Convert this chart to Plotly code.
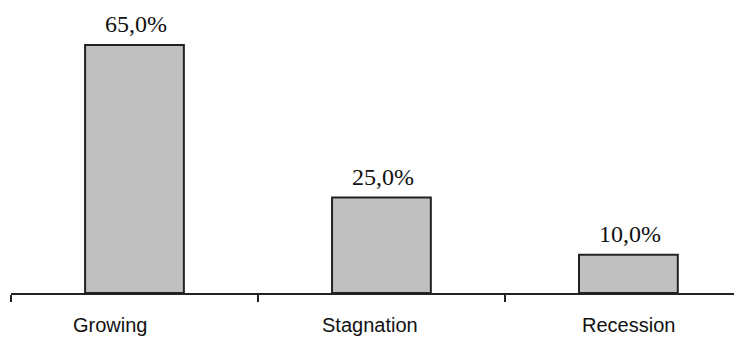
import plotly.graph_objects as go

categories = ["Growing", "Stagnation", "Recession"]
values = [65.0, 25.0, 10.0]
value_labels = ["65,0%", "25,0%", "10,0%"]
label_shifts = [-24, -11, 0]

fig = go.Figure()
fig.add_trace(go.Bar(
    x=categories, y=values, width=0.4,
    marker=dict(color="#C0C0C0", line=dict(color="#222222", width=2)),
    cliponaxis=False, hoverinfo="skip",
))
for c, v, t in zip(categories, values, value_labels):
    fig.add_annotation(x=c, y=v, xref="x", yref="y", text=t, showarrow=False,
                       yanchor="bottom", yshift=6, xshift=2,
                       font=dict(family="Liberation Serif", size=24, color="#111111"))
for c, s in zip(categories, label_shifts):
    fig.add_annotation(x=c, y=0, xref="x", yref="y", text=c, showarrow=False,
                       yanchor="top", yshift=-19, xshift=s,
                       font=dict(family="Liberation Sans", size=20, color="#111111"))

fig.update_layout(
    width=734, height=330, margin=dict(l=3, r=0, t=0, b=45),
    plot_bgcolor="white", paper_bgcolor="white", showlegend=False,
)
fig.update_xaxes(type="category", range=[-0.5, 2.46], tickson="boundaries",
                 ticks="outside", ticklen=7, tickwidth=2, tickcolor="#222222",
                 showline=True, linewidth=2, linecolor="#222222",
                 showticklabels=False, showgrid=False, zeroline=False)
fig.update_yaxes(range=[0, 74.7], visible=False)
fig.write_html("out.html")
